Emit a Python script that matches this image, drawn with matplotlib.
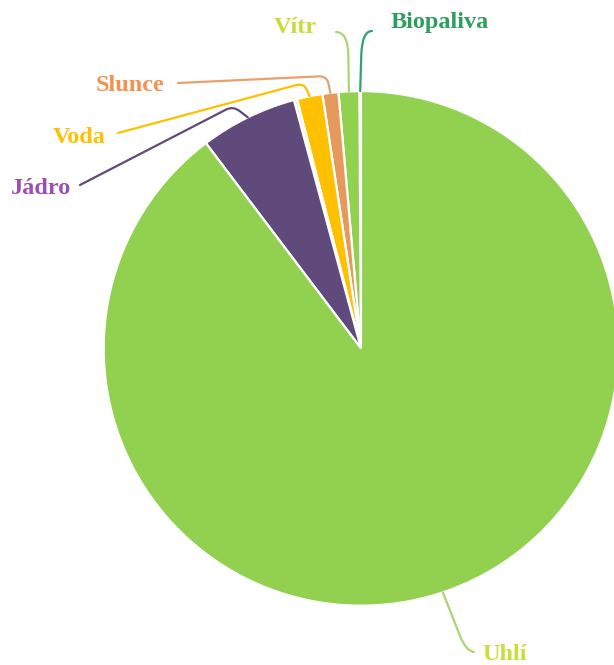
import numpy as np
import matplotlib.pyplot as plt
from matplotlib.path import Path
from matplotlib.patches import PathPatch

# podíl zdrojů na výrobě elektřiny (%)
zdroje = ["Biopaliva", "Vítr", "Slunce", "Voda", "", "Jádro", "Uhlí"]
podily = [0.1, 1.3, 1.0, 1.6, 0.2, 6.1, 89.7]
barvy = ["#2fae6a", "#92d050", "#e5995a", "#ffc000", "#fbe9c4", "#604a7b", "#92d050"]
barvy_popisku = ["#2e9e5e", "#c2de3a", "#f5904f", "#ffc000", None, "#9a4fb2", "#c4e03a"]
barvy_car = ["#2ea56a", "#a8d672", "#e9a06a", "#ffc000", None, "#604a7b", "#a8d672"]

W, H = 614, 665


def px(x, y):
    # pixely obrázku (počátek vlevo nahoře) -> souřadnice os
    return np.array([x, H - y], dtype=float)


# popisky: (x, účaří), zarovnání, lom čáry, konec čáry, zaoblení (před lomem, za lomem)
rozvrzeni = {
    "Biopaliva": ((391, 28), "left", (362, 31), (372, 31), (24, 10)),
    "Vítr": ((317, 33), "right", (348, 32), (336, 32), (24, 12)),
    "Slunce": ((164, 91), "right", (327, 76), (178, 83), (8, 8)),
    "Voda": ((106, 143), "right", (304, 83), (118, 133), (8, 8)),
    "Jádro": ((71, 194), "right", (233, 106), (80, 185), (8, 8)),
    "Uhlí": ((482, 660), "left", (466, 651), (474, 652), (16, 8)),
}


def zaobleny_lom(p0, p1, p2, r):
    ra, rb = r
    d0 = np.linalg.norm(p0 - p1)
    d2 = np.linalg.norm(p2 - p1)
    a = p1 + min(ra, 0.9 * d0) * (p0 - p1) / d0
    b = p1 + min(rb, d2) * (p2 - p1) / d2
    verts = [p0, a, p1, b, p2]
    codes = [Path.MOVETO, Path.LINETO, Path.CURVE3, Path.CURVE3, Path.LINETO]
    return Path(verts, codes)


fig = plt.figure(figsize=(W / 100, H / 100), dpi=100)
ax = fig.add_axes([0, 0, 1, 1])

stred = px(361, 348.4)
polomer = 257.3
wedges, _ = ax.pie(podily, colors=barvy, startangle=90, counterclock=True,
                   center=tuple(stred), radius=polomer,
                   wedgeprops=dict(edgecolor="white", linewidth=1.6))

for w, nazev, bp, bc in zip(wedges, zdroje, barvy_popisku, barvy_car):
    if not nazev:
        continue
    (tx, ty), ha, lom, konec, r = rozvrzeni[nazev]
    uhel = np.deg2rad((w.theta1 + w.theta2) / 2)
    kotva = stred + polomer * np.array([np.cos(uhel), np.sin(uhel)])
    cesta = zaobleny_lom(kotva, px(*lom), px(*konec), r)
    ax.add_patch(PathPatch(cesta, facecolor="none", edgecolor=bc, linewidth=1.6,
                           capstyle="round", joinstyle="round"))
    x, y = px(tx, ty)
    ax.text(x, y, nazev, ha=ha, va="baseline", color=bp, fontsize=17.5,
            fontweight="bold", family=["Liberation Serif", "DejaVu Serif"])

ax.set_xlim(0, W)
ax.set_ylim(0, H)
ax.set_aspect("equal")
ax.axis("off")

fig.savefig("out.png", dpi=100, facecolor="white")
